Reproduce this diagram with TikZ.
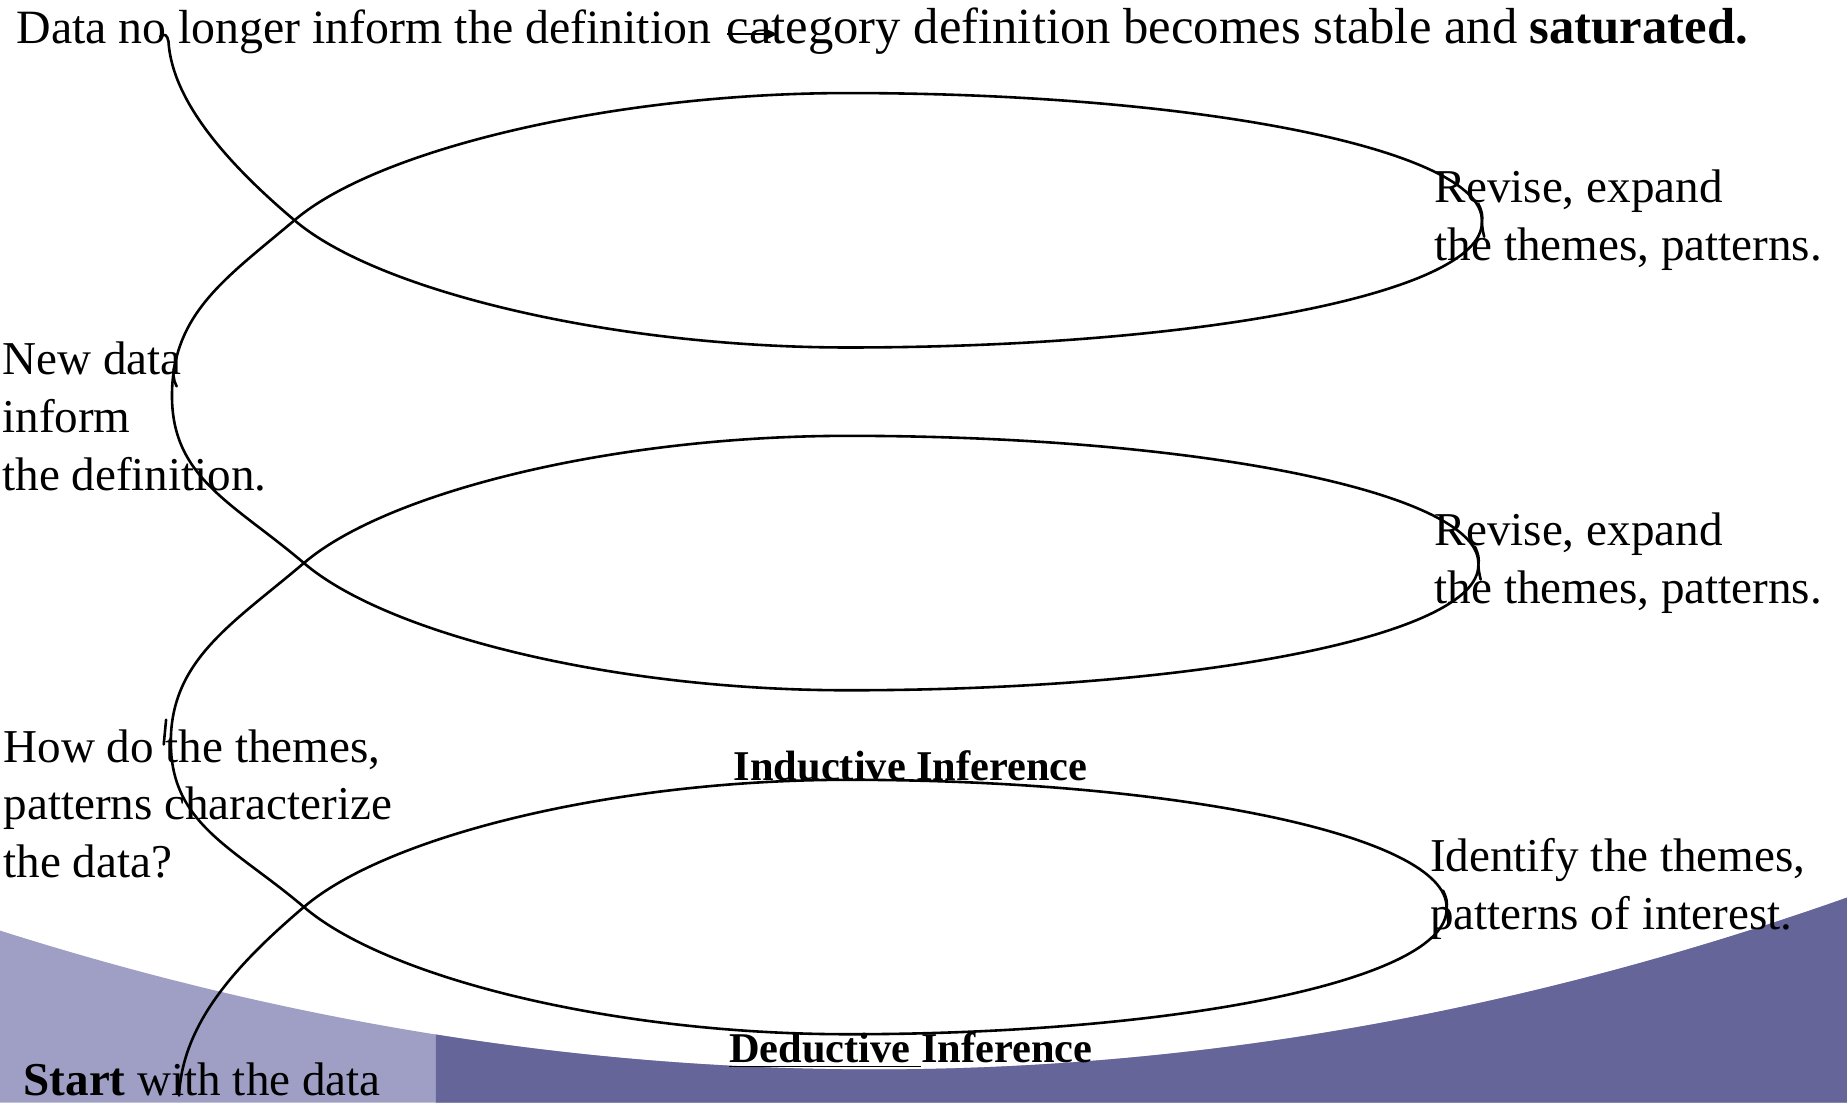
\documentclass[tikz,border=0pt]{standalone}
\usepackage{fontspec}
\setmainfont{Liberation Serif}
\usetikzlibrary{arrows.meta}
\definecolor{lavlight}{HTML}{9F9FC5}
\definecolor{lavdark}{HTML}{656599}
\newcommand\fishloop[2]{%
  \draw[spiral] (#1,0) .. controls ({#1+70},-60) and (520,-108) .. (720,-108)
    .. controls ({720+0.5523*(#2-720)},-108) and (#2,-60) .. (#2,0)
    .. controls (#2,5) and ({#2+1},10) .. ({#2+2},14);
  \draw[spiral] ({#2-3},-14) .. controls (#2,-8) and ({#2+1},-4) .. (#2,2)
    .. controls (#2,62) and ({720+0.5523*(#2-720)},108) .. (720,108)
    .. controls (520,108) and ({#1+70},60) .. (#1,0);
}
\begin{document}
\begin{tikzpicture}[x=0.5pt,y=-0.5pt,
  lbl/.style={font=\fontsize{20}{24.5}\selectfont, inner sep=0pt, outer sep=0pt, align=left, anchor=base west},
  inf/.style={font=\fontsize{18}{22}\selectfont\bfseries, inner sep=0pt, outer sep=0pt, anchor=base west},
  spiral/.style={draw=black, line width=1.1pt, line cap=round},
]
\useasboundingbox (0,0) rectangle (1568,936);
% background band
\fill[lavlight] (0,790) .. controls (522.7,956) and (1045.3,946.7) .. (1568,762) -- (1568,936) -- (0,936) -- cycle;
\begin{scope}
  \clip (370,0) rectangle (1568,936);
  \fill[lavdark] (0,790) .. controls (522.7,956) and (1045.3,946.7) .. (1568,762) -- (1568,936) -- (0,936) -- cycle;
\end{scope}
% key points of the spiral
\coordinate (s) at (152,930);
\coordinate (c1) at (258,770);
\coordinate (l1) at (145,630);
\coordinate (c2) at (258,478);
\coordinate (l2) at (146,336);
\coordinate (c3) at (250,187);
\coordinate (e) at (143,35);
% loops
\begin{scope}[shift={(0,770)}]\fishloop{258}{1228}\end{scope}
\begin{scope}[shift={(0,478)}]\fishloop{258}{1255}\end{scope}
\begin{scope}[shift={(0,187)}]\fishloop{250}{1258}\end{scope}
% start, lobes, end
\draw[spiral] (s) .. controls (155,870) and (198,821) .. (c1);
\draw[spiral] (c1) .. controls (198,719) and (145,700) .. (l1) .. controls (145,560) and (198,529) .. (c2);
\draw[spiral] (c2) .. controls (198,427) and (146,406) .. (l2) .. controls (146,266) and (192,236) .. (c3);
\draw[spiral] (c3) .. controls (192,138) and (146,85) .. (e) .. controls (142,30) and (140,28) .. (136,31);
% small joint marks
\draw[spiral] (139,632) -- (141,611);
\draw[spiral] (149,308) .. controls (146,316) and (147,322) .. (150,328);
% texts
\node[lbl, font=\fontsize{20.3}{24.5}\selectfont] (topA) at (14,37) {Data no longer inform the definition};
\node[lbl, font=\fontsize{21.5}{26}\selectfont] (topB) at (617,37) {category definition becomes stable and \textbf{saturated.}};
\coordinate (arrS) at (617,29);
\coordinate (arrE) at (660,29);
\draw[line width=0.9pt, -{Triangle[length=5pt,width=4.5pt]}] (arrS) -- (arrE);
\node[lbl] (rev1) at (1218,221) {Revise, expand\\the themes, patterns.};
\node[lbl] (rev2) at (1218,512) {Revise, expand\\the themes, patterns.};
\node[lbl] (ident) at (1214,789) {Identify the themes,\\patterns of interest.};
\node[lbl] (newdata) at (2,416) {New data\\inform\\the definition.};
\node[lbl] (howdo) at (3,745) {How do the themes,\\patterns characterize\\the data?};
\node[lbl] (start) at (20,930) {\textbf{Start} with the data};
\node[inf] (induct) at (623,663) {Inductive Inference};
\node[inf] (deduct) at (619,902) {\underline{Deductive\ }Inference};
\end{tikzpicture}
\end{document}
